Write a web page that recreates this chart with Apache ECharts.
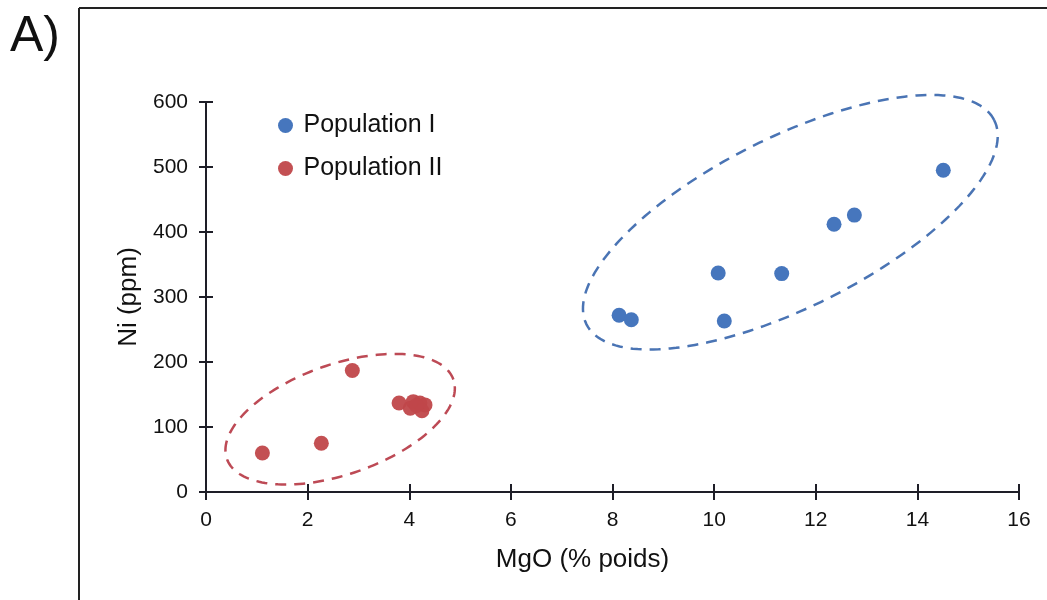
<!DOCTYPE html>
<html>
<head>
<meta charset="utf-8">
<script src="https://cdn.jsdelivr.net/npm/echarts@6/dist/echarts.min.js"></script>
<style>html,body{margin:0;padding:0;background:#fff}#c{width:1047px;height:600px}</style>
</head>
<body>
<div id="c"></div>
<script>
const seriesNames = ['Population I', 'Population II'];
const popI = [[8.13,272],[8.37,265],[10.08,337],[10.2,263],[11.33,336],[12.36,412],[12.76,426],[14.51,495]];
const popII = [[1.11,60],[2.27,75],[2.88,187],[3.8,137],[4.02,129],[4.08,139],[4.21,137],[4.31,134],[4.25,125],[4.14,133]];
const xTicks = [0,2,4,6,8,10,12,14,16];
const yTicks = [0,100,200,300,400,500,600];
// annotation ellipses: centre (data), semi-axes (px), tilt (deg)
const ellipseI = [[11.5,415,228,85,26.6]];
const ellipseII = [[2.64,112,120,55,19.3]];

const blue = '#4676bd', red = '#c0474a';

function ellipseRenderer(color){
  return function(params, api){
    const c = api.coord([api.value(0), api.value(1)]);
    const a = api.value(2), b = api.value(3), t = api.value(4)*Math.PI/180;
    const pts = [];
    for (let i=0;i<=180;i++){
      const u = i/180*2*Math.PI;
      const x = a*Math.cos(u), y = b*Math.sin(u);
      pts.push([c[0] + x*Math.cos(t) - y*Math.sin(t), c[1] - (x*Math.sin(t) + y*Math.cos(t))]);
    }
    return {type:'polyline', shape:{points:pts}, style:{fill:null, stroke:color, lineWidth:2.5, lineDash:[11,8]}};
  };
}

const chart = echarts.init(document.getElementById('c'));
const font = "'Liberation Sans', Arial, sans-serif";
const axisColor = '#1e1e28';
const baseX = {type:'value', min:0, max:16, interval:2, gridIndex:0};
const baseY = {type:'value', min:0, max:600, interval:100, gridIndex:0};
chart.setOption({
  animation:false,
  backgroundColor:'#fff',
  grid:{left:206, right:28, top:102, bottom:108},
  legend:{
    data:seriesNames, orient:'vertical', left:273, top:108, itemGap:18,
    itemWidth:26, itemHeight:15, icon:'circle',
    textStyle:{fontFamily:font, fontSize:25, color:'#111'}
  },
  xAxis:[
    Object.assign({}, baseX, {
      position:'bottom',
      name:'MgO (% poids)', nameLocation:'middle', nameGap:55,
      nameTextStyle:{fontFamily:font, fontSize:26, color:'#111', padding:[0,60,0,0]},
      axisLine:{lineStyle:{color:axisColor, width:2}},
      axisTick:{show:true, length:8, lineStyle:{color:axisColor, width:2}},
      axisLabel:{fontFamily:font, fontSize:21, color:'#111', margin:18, formatter:v=>xTicks.includes(v)?String(v):''},
      splitLine:{show:false}
    }),
    Object.assign({}, baseX, {
      position:'bottom',
      axisLine:{show:false}, axisLabel:{show:false}, splitLine:{show:false},
      axisTick:{show:true, inside:true, length:8, lineStyle:{color:axisColor, width:2}}
    })
  ],
  yAxis:[
    Object.assign({}, baseY, {
      position:'left',
      name:'Ni (ppm)', nameLocation:'middle', nameGap:48,
      nameTextStyle:{fontFamily:font, fontSize:26, color:'#111'},
      axisLine:{show:true, lineStyle:{color:axisColor, width:2}},
      axisTick:{show:true, length:7, lineStyle:{color:axisColor, width:2}},
      axisLabel:{fontFamily:font, fontSize:21, color:'#111', margin:18, formatter:v=>yTicks.includes(v)?String(v):''},
      splitLine:{show:false}
    }),
    Object.assign({}, baseY, {
      position:'left',
      axisLine:{show:false}, axisLabel:{show:false}, splitLine:{show:false},
      axisTick:{show:true, inside:true, length:7, lineStyle:{color:axisColor, width:2}}
    })
  ],
  graphic:[
    {type:'line', shape:{x1:79, y1:8, x2:1047, y2:8}, style:{stroke:'#222', lineWidth:2}},
    {type:'line', shape:{x1:79, y1:8, x2:79, y2:600}, style:{stroke:'#222', lineWidth:2}},
    {type:'text', left:10, top:12, style:{text:'A)', fontFamily:font, fontSize:50, fill:'#111'}}
  ],
  series:[
    {type:'custom', name:'ellipseI', silent:true, renderItem:ellipseRenderer('#4a74b4'), data:ellipseI, encode:{x:0,y:1}, z:1},
    {type:'custom', name:'ellipseII', silent:true, renderItem:ellipseRenderer('#bd4a55'), data:ellipseII, encode:{x:0,y:1}, z:1},
    {type:'scatter', name:seriesNames[0], data:popI, symbolSize:15, itemStyle:{color:blue, opacity:1}, z:3},
    {type:'scatter', name:seriesNames[1], data:popII, symbolSize:15, itemStyle:{color:red, opacity:0.95}, z:3}
  ]
});
</script>
</body>
</html>
